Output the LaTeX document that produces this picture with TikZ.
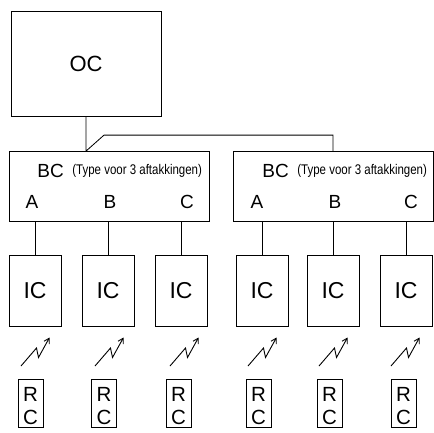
\documentclass[tikz,border=0pt]{standalone}
\usepackage{fontspec}
\setmainfont{Liberation Sans}
\usepackage{graphicx}
\usetikzlibrary{arrows.meta}

\begin{document}
\begin{tikzpicture}[x=1pt,y=-1pt,line width=0.8pt]
    \useasboundingbox (0,0) rectangle (434,432);

    \begin{scope}[every node/.style={rectangle,draw,inner sep=0pt}]
        \node[minimum width=150pt,minimum height=105pt,font=\fontsize{22}{24}\selectfont] (OC) at (86,63.5) {OC};
        \node[minimum width=200pt,minimum height=70pt] (BC1) at (109,186.5) {};
        \node[minimum width=200pt,minimum height=70pt] (BC2) at (333,186.5) {};
    \end{scope}

    \begin{scope}[every node/.style={rectangle,draw,inner sep=0pt,minimum width=52pt,minimum height=71pt,font=\fontsize{23}{25}\selectfont}]
        \node (IC1) at (35,290.5) {IC};
        \node (IC2) at (108,290.5) {IC};
        \node (IC3) at (181,290.5) {IC};
        \node (IC4) at (262,290.5) {IC};
        \node (IC5) at (333,290.5) {IC};
        \node (IC6) at (406,290.5) {IC};
    \end{scope}

    \begin{scope}[every node/.style={rectangle,draw,inner sep=0pt,minimum width=25pt,minimum height=48pt}]
        \node (RC1) at (30.5,403) {};
        \node (RC2) at (104,403) {};
        \node (RC3) at (178.5,403) {};
        \node (RC4) at (258.5,403) {};
        \node (RC5) at (329.5,403) {};
        \node (RC6) at (403.5,403) {};
    \end{scope}

    % letters of the remote boxes
    \foreach \i in {1,...,6} {
        \node[anchor=base,inner sep=0pt,font=\fontsize{20.5}{23}\selectfont] (RCr\i) at ([yshift=1.5pt]RC\i.center) {R};
        \node[anchor=base,inner sep=0pt,font=\fontsize{20.5}{23}\selectfont] (RCc\i) at ([yshift=-21.5pt]RC\i.center) {C};
    }

    % labels in the branch boxes
    \begin{scope}[every node/.style={inner sep=0pt,font=\fontsize{19}{21}\selectfont}]
        \node[anchor=base west] (BC1name) at (37,177) {BC};
        \node[anchor=base west] (BC2name) at (262,177) {BC};
        \node[anchor=base west,font=\fontsize{14}{16}\selectfont] (BC1type) at (72,174) {\scalebox{0.82}[1]{(Type voor 3 aftakkingen)}};
        \node[anchor=base west,font=\fontsize{14}{16}\selectfont] (BC2type) at (297,174) {\scalebox{0.82}[1]{(Type voor 3 aftakkingen)}};
        \node[anchor=base] (A1) at (32,208) {A};
        \node[anchor=base] (B1) at (110,208) {B};
        \node[anchor=base] (C1) at (187,208) {C};
        \node[anchor=base] (A2) at (257,208) {A};
        \node[anchor=base] (B2) at (335,208) {B};
        \node[anchor=base] (C2) at (411,208) {C};
    \end{scope}

    \begin{scope}
        \draw (OC.south) -- (OC.south |- BC1.north) -- ++(18,-16) -| (BC2.north);
        \path [-] (BC1.south -| IC1.north) edge (IC1.north);
        \path [-] (BC1.south -| IC2.north) edge (IC2.north);
        \path [-] (BC1.south -| IC3.north) edge (IC3.north);
        \path [-] (BC2.south -| IC4.north) edge (IC4.north);
        \path [-] (BC2.south -| IC5.north) edge (IC5.north);
        \path [-] (BC2.south -| IC6.north) edge (IC6.north);
    \end{scope}

    % radio links
    \foreach \x in {21,95,170,248,319,391}
        \draw[-{Straight Barb[length=5pt,width=6pt]},line width=0.9pt] (\x,366) -- ++(15.5,-18) -- ++(2,9.5) -- ++(11,-20);
\end{tikzpicture}
\end{document}
